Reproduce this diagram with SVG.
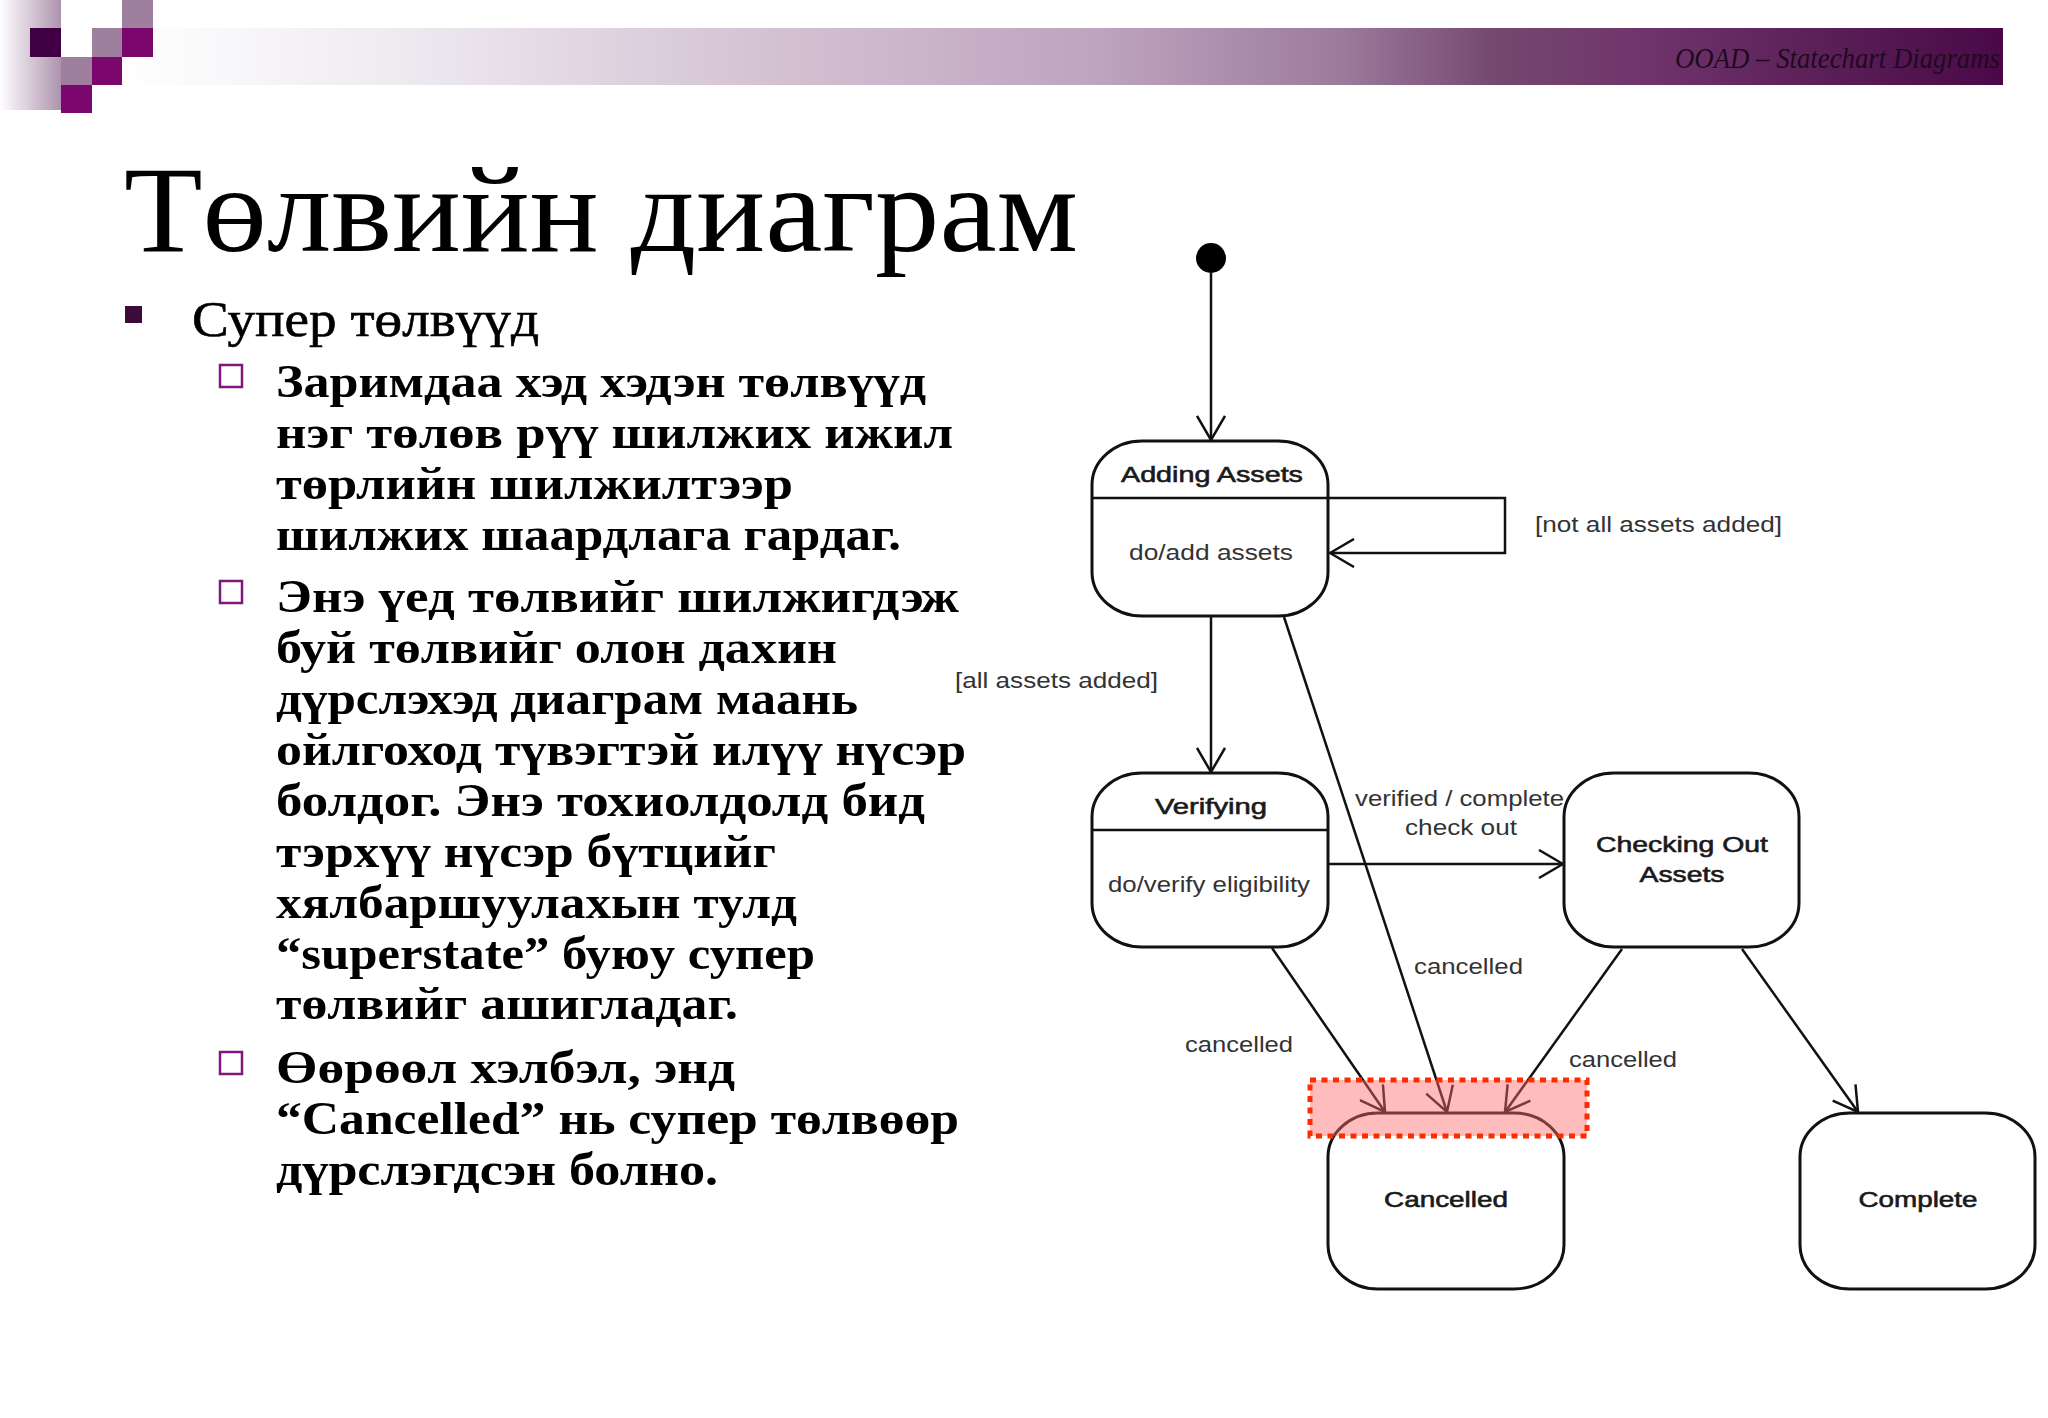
<svg xmlns="http://www.w3.org/2000/svg" width="2048" height="1418" viewBox="0 0 2048 1418">
<defs>
  <linearGradient id="bar" gradientUnits="userSpaceOnUse" x1="122" y1="0" x2="2003" y2="0">
    <stop offset="0" stop-color="#ffffff"/>
    <stop offset="0.15" stop-color="#eeeaf0"/>
    <stop offset="0.31" stop-color="#d8c8d8"/>
    <stop offset="0.52" stop-color="#bea4be"/>
    <stop offset="0.65" stop-color="#9c7a9c"/>
    <stop offset="0.73" stop-color="#74486f"/>
    <stop offset="0.81" stop-color="#70346c"/>
    <stop offset="0.92" stop-color="#581c55"/>
    <stop offset="1" stop-color="#4a0848"/>
  </linearGradient>
  <linearGradient id="stripe" gradientUnits="userSpaceOnUse" x1="0" y1="0" x2="61" y2="0">
    <stop offset="0" stop-color="#ffffff"/>
    <stop offset="1" stop-color="#ad93ad"/>
  </linearGradient>
  <marker id="open" viewBox="0 0 26 30" refX="25" refY="15" markerWidth="26" markerHeight="30" orient="auto" markerUnits="userSpaceOnUse">
    <path d="M1,1 L25,15 L1,29" fill="none" stroke="#111" stroke-width="2.5"/>
  </marker>
  <style>
    .hdr { font-family: "Liberation Serif", "DejaVu Serif", serif; font-style: italic; font-size: 29px; fill: #1e0a1e; }
    .title { font-family: "Liberation Serif", "DejaVu Serif", serif; font-size: 122px; fill: #000; }
    .l1 { font-family: "Liberation Serif", "DejaVu Serif", serif; font-size: 50px; fill: #000; stroke: #000; stroke-width: 0.6; }
    .b { font-family: "Liberation Serif", "DejaVu Serif", serif; font-weight: bold; font-size: 46px; fill: #000; }
    .sq { fill: none; stroke: #7b1a7b; stroke-width: 2.5; }
    .state { fill: #fff; stroke: #111; stroke-width: 3; }
    .div { stroke: #111; stroke-width: 2.5; }
    .conn { fill: none; stroke: #111; stroke-width: 2.5; marker-end: url(#open); }
    .name { font-family: "Liberation Sans", Arial, sans-serif; font-size: 22px; fill: #1a1a1a; stroke: #1a1a1a; stroke-width: 0.6; text-anchor: middle; }
    .act { font-family: "Liberation Sans", Arial, sans-serif; font-size: 22px; fill: #333; text-anchor: middle; }
    .lbl { font-family: "Liberation Sans", Arial, sans-serif; font-size: 22px; fill: #333; }
  </style>
</defs>
<rect x="0" y="0" width="2048" height="1418" fill="#fff"/>

<!-- header decoration -->
<g id="header">
  <rect x="0" y="0" width="61" height="110" fill="url(#stripe)"/>
  <rect x="122" y="28" width="1881" height="57" fill="url(#bar)"/>
  <rect x="30" y="28" width="31" height="29" fill="#420044"/>
  <rect x="92" y="28" width="30" height="29" fill="#9e809e"/>
  <rect x="122" y="28" width="31" height="29" fill="#7a066e"/>
  <rect x="122" y="0" width="31" height="28" fill="#9e809e"/>
  <rect x="61" y="57" width="31" height="28" fill="#9e809e"/>
  <rect x="92" y="57" width="30" height="28" fill="#7a066e"/>
  <rect x="61" y="85" width="31" height="28" fill="#7a066e"/>
  <text class="hdr" x="1675" y="68" textLength="325" lengthAdjust="spacingAndGlyphs">OOAD – Statechart Diagrams</text>
</g>

<!-- title and bullet text -->
<g id="title">
  <text class="title" x="124" y="251" textLength="954" lengthAdjust="spacingAndGlyphs">Төлвийн диаграм</text>
</g>
<g id="bullets">
  <rect x="125" y="306" width="17" height="17" fill="#3d0a3d"/>
  <text class="l1" x="192" y="336" textLength="347" lengthAdjust="spacingAndGlyphs">Супер төлвүүд</text>

  <rect class="sq" x="220" y="365" width="22" height="22"/>
  <text class="b" x="276" y="397" textLength="650" lengthAdjust="spacingAndGlyphs">Заримдаа хэд хэдэн төлвүүд</text>
  <text class="b" x="276" y="448" textLength="677" lengthAdjust="spacingAndGlyphs">нэг төлөв рүү шилжих ижил</text>
  <text class="b" x="276" y="499" textLength="517" lengthAdjust="spacingAndGlyphs">төрлийн шилжилтээр</text>
  <text class="b" x="276" y="550" textLength="625" lengthAdjust="spacingAndGlyphs">шилжих шаардлага гардаг.</text>

  <rect class="sq" x="220" y="581" width="22" height="22"/>
  <text class="b" x="276" y="612" textLength="683" lengthAdjust="spacingAndGlyphs">Энэ үед төлвийг шилжигдэж</text>
  <text class="b" x="276" y="663" textLength="561" lengthAdjust="spacingAndGlyphs">буй төлвийг олон дахин</text>
  <text class="b" x="276" y="714" textLength="582" lengthAdjust="spacingAndGlyphs">дүрслэхэд диаграм маань</text>
  <text class="b" x="276" y="765" textLength="690" lengthAdjust="spacingAndGlyphs">ойлгоход түвэгтэй илүү нүсэр</text>
  <text class="b" x="276" y="816" textLength="649" lengthAdjust="spacingAndGlyphs">болдог. Энэ тохиолдолд бид</text>
  <text class="b" x="276" y="867" textLength="500" lengthAdjust="spacingAndGlyphs">тэрхүү нүсэр бүтцийг</text>
  <text class="b" x="276" y="918" textLength="521" lengthAdjust="spacingAndGlyphs">хялбаршуулахын тулд</text>
  <text class="b" x="276" y="969" textLength="539" lengthAdjust="spacingAndGlyphs">“superstate” буюу супер</text>
  <text class="b" x="276" y="1019" textLength="462" lengthAdjust="spacingAndGlyphs">төлвийг ашигладаг.</text>

  <rect class="sq" x="220" y="1052" width="22" height="22"/>
  <text class="b" x="276" y="1083" textLength="459" lengthAdjust="spacingAndGlyphs">Өөрөөл хэлбэл, энд</text>
  <text class="b" x="276" y="1134" textLength="683" lengthAdjust="spacingAndGlyphs">“Cancelled” нь супер төлвөөр</text>
  <text class="b" x="276" y="1185" textLength="442" lengthAdjust="spacingAndGlyphs">дүрслэгдсэн болно.</text>
</g>

<!-- nodes -->
<g id="initial">
  <circle cx="1211" cy="258" r="15" fill="#000"/>
</g>
<g id="adding-assets">
  <rect class="state" x="1092" y="441" width="236" height="175" rx="50" ry="44"/>
  <line class="div" x1="1093" y1="498" x2="1327" y2="498"/>
  <text class="name" x="1212" y="482" textLength="182" lengthAdjust="spacingAndGlyphs">Adding Assets</text>
  <text class="act" x="1211" y="560" textLength="164" lengthAdjust="spacingAndGlyphs">do/add assets</text>
</g>
<g id="verifying">
  <rect class="state" x="1092" y="773" width="236" height="174" rx="50" ry="44"/>
  <line class="div" x1="1093" y1="830" x2="1327" y2="830"/>
  <text class="name" x="1211" y="814" textLength="112" lengthAdjust="spacingAndGlyphs">Verifying</text>
  <text class="act" x="1209" y="892" textLength="202" lengthAdjust="spacingAndGlyphs">do/verify eligibility</text>
</g>
<g id="checking-out">
  <rect class="state" x="1564" y="773" width="235" height="174" rx="50" ry="44"/>
  <text class="name" x="1682" y="852" textLength="172" lengthAdjust="spacingAndGlyphs">Checking Out</text>
  <text class="name" x="1682" y="882" textLength="85" lengthAdjust="spacingAndGlyphs">Assets</text>
</g>
<g id="cancelled">
  <rect class="state" x="1328" y="1113" width="236" height="176" rx="50" ry="44"/>
  <text class="name" x="1446" y="1207" textLength="124" lengthAdjust="spacingAndGlyphs">Cancelled</text>
</g>
<g id="complete">
  <rect class="state" x="1800" y="1113" width="235" height="176" rx="50" ry="44"/>
  <text class="name" x="1918" y="1207" textLength="119" lengthAdjust="spacingAndGlyphs">Complete</text>
</g>

<!-- connectors -->
<g id="connectors">
  <path class="conn" d="M1211,272 L1211,440"/>
  <path class="conn" d="M1328,498 L1505,498 L1505,553 L1330,553"/>
  <path class="conn" d="M1211,617 L1211,772"/>
  <path class="conn" d="M1329,864 L1563,864"/>
  <path class="conn" d="M1284,617 L1447,1112"/>
  <path class="conn" d="M1272,948 L1385,1112"/>
  <path class="conn" d="M1622,949 L1505,1112"/>
  <path class="conn" d="M1742,949 L1858,1112"/>
  <text class="lbl" x="1535" y="532" textLength="247" lengthAdjust="spacingAndGlyphs">[not all assets added]</text>
  <text class="lbl" x="955" y="688" textLength="203" lengthAdjust="spacingAndGlyphs">[all assets added]</text>
  <text class="lbl" x="1355" y="806" textLength="209" lengthAdjust="spacingAndGlyphs">verified / complete</text>
  <text class="lbl" x="1405" y="835" textLength="112" lengthAdjust="spacingAndGlyphs">check out</text>
  <text class="lbl" x="1414" y="974" textLength="109" lengthAdjust="spacingAndGlyphs">cancelled</text>
  <text class="lbl" x="1185" y="1052" textLength="108" lengthAdjust="spacingAndGlyphs">cancelled</text>
  <text class="lbl" x="1569" y="1067" textLength="108" lengthAdjust="spacingAndGlyphs">cancelled</text>
</g>

<!-- highlight -->
<g id="highlight">
  <rect x="1310" y="1080" width="277" height="56" fill="#ff6a6a" fill-opacity="0.45" stroke="#ff2a00" stroke-width="5" stroke-dasharray="6 5.5"/>
</g>
</svg>
